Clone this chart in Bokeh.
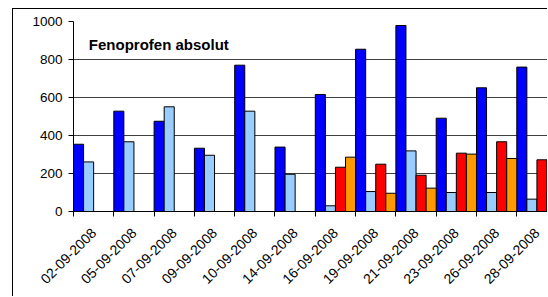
import math
from bokeh.plotting import figure
from bokeh.models import ColumnDataSource, Range1d, FixedTicker, Label
from bokeh.embed import file_html
from bokeh.resources import INLINE

dates = ["02-09-2008", "05-09-2008", "07-09-2008", "09-09-2008", "10-09-2008", "14-09-2008",
         "16-09-2008", "19-09-2008", "21-09-2008", "23-09-2008", "26-09-2008", "28-09-2008"]
nan = float("nan")
series_blue = [354, 528, 475, 333, 770, 339, 616, 854, 979, 491, 651, 760]
series_lightblue = [261, 367, 551, 296, 528, 196, 30, 105, 319, 100, 100, 65]
series_red = [nan, nan, nan, nan, nan, nan, 233, 249, 191, 307, 367, 272]
series_orange = [nan, nan, nan, nan, nan, nan, 286, 96, 123, 302, 279, 100]
series = [series_blue, series_lightblue, series_red, series_orange]
colors = ["#0000FF", "#99CCFF", "#FF0000", "#FF9900"]
y_ticks = [0, 200, 400, 600, 800, 1000]
title_text = "Fenoprofen absolut"

FONT = "Liberation Sans"
n = len(dates)
bar_w = 0.25

p = figure(width=535, height=288, output_backend="svg", toolbar_location=None,
           x_range=Range1d(0, 11.787), y_range=Range1d(0, 1000),
           min_border_left=60, min_border_right=0, min_border_top=12, min_border_bottom=86)
p.margin = (8, 0, 0, 12)
p.stylesheets = [":host { border-top: 1px solid black; border-left: 1px solid black; }"]
p.background_fill_color = "white"
p.border_fill_color = "white"
p.outline_line_color = None

yticker = FixedTicker(ticks=y_ticks)
p.ygrid.ticker = yticker
p.yaxis.ticker = yticker
p.xgrid.visible = False
p.ygrid.grid_line_color = "#404040"
p.ygrid.grid_line_width = 1

for k, (vals, col) in enumerate(zip(series, colors)):
    xs = [i + bar_w / 2 + bar_w * k for i in range(n)]
    src = ColumnDataSource(dict(x=xs, top=vals))
    p.vbar(x="x", top="top", bottom=0, width=bar_w, source=src,
           fill_color=col, line_color="black", line_width=1)

p.yaxis.axis_line_color = "black"
p.yaxis.major_tick_line_color = "black"
p.yaxis.major_tick_in = 0
p.yaxis.major_tick_out = 5
p.yaxis.minor_tick_line_color = None
p.yaxis.major_label_text_font = FONT
p.yaxis.major_label_text_font_size = "13.5px"
p.yaxis.major_label_text_color = "black"
p.yaxis.major_label_standoff = 6

centers = [i + 0.5 for i in range(n)]
bounds = [float(i) for i in range(n + 1)]
p.xaxis.ticker = FixedTicker(ticks=centers, minor_ticks=bounds)
p.xaxis.major_label_overrides = {c: d for c, d in zip(centers, dates)}
p.xaxis.axis_line_color = "black"
p.xaxis.major_tick_in = 0
p.xaxis.major_tick_out = 0
p.xaxis.minor_tick_in = 0
p.xaxis.minor_tick_out = 5
p.xaxis.minor_tick_line_color = "black"
p.xaxis.major_label_orientation = math.pi / 4
p.xaxis.major_label_text_font = FONT
p.xaxis.major_label_text_font_size = "14px"
p.xaxis.major_label_text_color = "black"
p.xaxis.major_label_standoff = 14

p.add_layout(Label(x=0.38, y=877, text=title_text, text_font=FONT, text_font_size="15px",
                   text_font_style="bold", text_color="black", text_baseline="alphabetic"))

open("out.html", "w").write(file_html(p, INLINE))
